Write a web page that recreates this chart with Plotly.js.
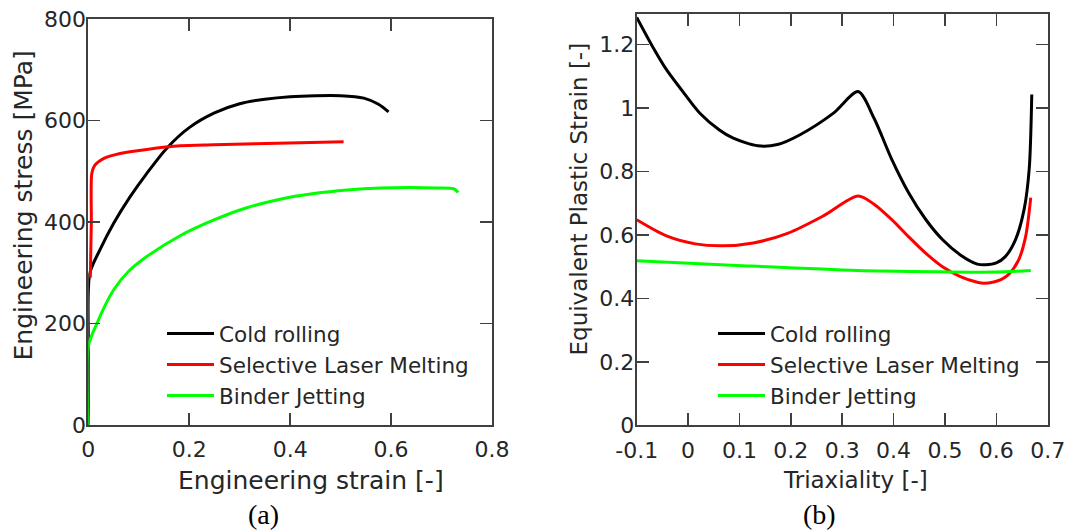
<!DOCTYPE html>
<html><head><meta charset="utf-8">
<script src="https://cdn.plot.ly/plotly-3.0.1.min.js"></script>
<style>html,body{margin:0;padding:0;background:#fff}#chart{width:1069px;height:530px}</style>
</head><body><div id="chart"></div>
<script>
// ---- Series names ----
const seriesNames = ['Cold rolling', 'Selective Laser Melting', 'Binder Jetting'];

// ---- (a) Engineering stress-strain ----
const crStrain  = [0, 0, 0.003, 0.023, 0.050, 0.083, 0.116, 0.156, 0.200, 0.250, 0.300, 0.350, 0.400, 0.450, 0.500, 0.546, 0.575, 0.595];
const crStress  = [0, 161, 299, 345, 397, 450, 496, 546, 586, 615, 633, 642, 647, 649, 649, 644, 632, 617];
const slmStrain = [0.004, 0.006, 0.007, 0.013, 0.030, 0.063, 0.116, 0.182, 0.248, 0.330, 0.420, 0.506];
const slmStress = [290, 400, 496, 512, 525, 535, 543, 550, 552, 554, 556, 558];
const bjStrain  = [0, 0, 0.017, 0.050, 0.080, 0.116, 0.182, 0.249, 0.314, 0.380, 0.447, 0.513, 0.579, 0.640, 0.690, 0.725, 0.733];
const bjStress  = [0, 154, 200, 266, 303, 332, 373, 404, 428, 445, 456, 463, 467, 468, 467, 465, 458];

// ---- (b) Equivalent plastic strain vs triaxiality ----
const crTriax  = [-0.100, -0.067, -0.042, -0.006, 0.023, 0.061, 0.088, 0.136, 0.174, 0.218, 0.283, 0.331, 0.362, 0.396, 0.429, 0.463, 0.496, 0.530, 0.563, 0.579, 0.600, 0.617, 0.637, 0.654, 0.664, 0.669];
const crEps    = [1.286, 1.188, 1.121, 1.043, 0.984, 0.931, 0.905, 0.881, 0.885, 0.916, 0.984, 1.052, 0.968, 0.840, 0.734, 0.648, 0.584, 0.537, 0.508, 0.506, 0.512, 0.531, 0.584, 0.680, 0.808, 1.043];
const slmTriax = [-0.100, -0.042, 0.014, 0.068, 0.127, 0.195, 0.262, 0.331, 0.362, 0.396, 0.429, 0.463, 0.496, 0.530, 0.563, 0.576, 0.595, 0.610, 0.623, 0.643, 0.657, 0.667];
const slmEps   = [0.648, 0.597, 0.572, 0.566, 0.575, 0.606, 0.659, 0.723, 0.697, 0.649, 0.595, 0.542, 0.499, 0.469, 0.451, 0.448, 0.452, 0.460, 0.474, 0.520, 0.595, 0.718];
const bjTriax  = [-0.100, 0.094, 0.329, 0.491, 0.597, 0.667];
const bjEps    = [0.519, 0.504, 0.488, 0.484, 0.483, 0.488];

// ---- Ticks ----
const xTicksA = [0, 0.2, 0.4, 0.6, 0.8];
const xTickTextA = ['0', '0.2', '0.4', '0.6', '0.8'];
const yTicksA = [0, 200, 400, 600, 800];
const xTicksB = [-0.1, 0, 0.1, 0.2, 0.3, 0.4, 0.5, 0.6, 0.7];
const xTickTextB = ['-0.1', '0', '0.1', '0.2', '0.3', '0.4', '0.5', '0.6', '0.7'];
const yTicksB = [0, 0.2, 0.4, 0.6, 0.8, 1, 1.2];
const yTickTextB = ['0', '0.2', '0.4', '0.6', '0.8', '1', '1.2'];

const colors = ['#000000', '#ff0000', '#00ff00'];
const FONT = 'DejaVu Sans, Verdana, sans-serif';
const TXT = '#262626';
const AX = '#404040';

function tr(x, y, i, xa, ya, leg) {
  return {
    x: x, y: y, name: seriesNames[i], type: 'scatter', mode: 'lines',
    line: {color: colors[i], width: 3, shape: 'spline', smoothing: 0.8},
    xaxis: xa, yaxis: ya, legend: leg, legendgroup: leg + i, hoverinfo: 'skip'
  };
}

const data = [
  tr(crStrain, crStress, 0, 'x', 'y', 'legend'),
  tr(slmStrain, slmStress, 1, 'x', 'y', 'legend'),
  tr(bjStrain, bjStress, 2, 'x', 'y', 'legend'),
  tr(crTriax, crEps, 0, 'x2', 'y2', 'legend2'),
  tr(slmTriax, slmEps, 1, 'x2', 'y2', 'legend2'),
  tr(bjTriax, bjEps, 2, 'x2', 'y2', 'legend2')
];

function axis(extra) {
  return Object.assign({
    showline: true, linecolor: AX, linewidth: 2, mirror: 'ticks',
    ticks: 'inside', ticklen: 12, tickwidth: 1.5, tickcolor: AX,
    showgrid: false, zeroline: false, tickmode: 'array',
    tickfont: {family: FONT, size: 22, color: TXT}
  }, extra);
}

const W = 1069, H = 530;
const px = v => v / W, py = v => (H - v) / H;

function ann(text, x, y, size, angle, family, color) {
  return {text: text, x: px(x), y: py(y), xref: 'paper', yref: 'paper', xanchor: 'center', yanchor: 'middle',
          textangle: angle || 0, showarrow: false,
          font: {family: family || FONT, size: size, color: color || TXT}};
}

const legendStyle = {xanchor: 'left', yanchor: 'top', bgcolor: 'rgba(0,0,0,0)',
  font: {family: FONT, size: 21.5, color: TXT}, itemwidth: 47, tracegroupgap: 0, traceorder: 'normal'};

const layout = {
  width: W, height: H,
  margin: {l: 0, r: 0, t: 0, b: 0},
  paper_bgcolor: '#fff', plot_bgcolor: '#fff',
  showlegend: true,
  xaxis: axis({domain: [px(88.3), px(492)], range: [0, 0.8], tickvals: xTicksA, ticktext: xTickTextA, anchor: 'y', ticklabelstandoff: 4}),
  yaxis: axis({domain: [py(425), py(19)], range: [0, 800], tickvals: yTicksA, anchor: 'x', ticklabelstandoff: -4}),
  xaxis2: axis({domain: [px(636.7), px(1047.7)], range: [-0.1, 0.7], tickvals: xTicksB, ticktext: xTickTextB, anchor: 'y2', ticklabelstandoff: 4}),
  yaxis2: axis({domain: [py(425.3), py(14.2)], range: [0, 1.296], tickvals: yTicksB, ticktext: yTickTextB, anchor: 'x2', ticklabelstandoff: -4}),
  legend: Object.assign({x: px(162), y: py(313)}, legendStyle),
  legend2: Object.assign({x: px(713), y: py(313)}, legendStyle),
  annotations: [
    ann('Engineering stress [MPa]', 23, 205.5, 25, -90),
    ann('Engineering strain [-]', 311, 480, 25, 0),
    ann('Equivalent Plastic Strain [-]', 579, 199.5, 23, -90),
    ann('Triaxiality [-]', 855, 480, 23, 0),
    ann('(a)', 263, 514, 28, 0, 'Liberation Serif, Times New Roman, serif', '#000'),
    ann('(b)', 819, 514, 28, 0, 'Liberation Serif, Times New Roman, serif', '#000')
  ]
};

Plotly.newPlot('chart', data, layout, {displayModeBar: false, staticPlot: true});
</script>
</body></html>
